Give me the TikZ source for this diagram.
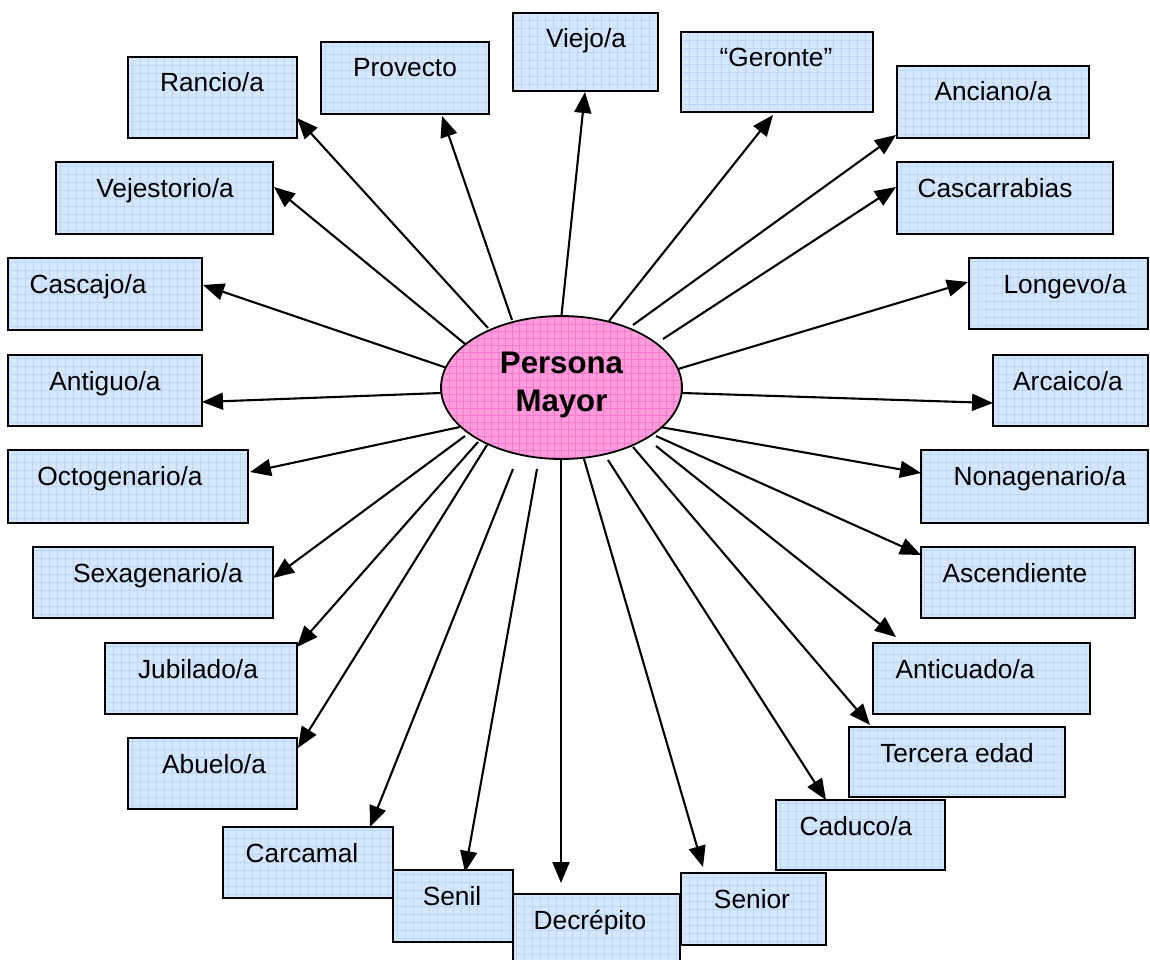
\documentclass[tikz,border=0pt]{standalone}
\usepackage{fontspec}
\setmainfont{Liberation Sans}
\usetikzlibrary{arrows.meta,shapes.geometric,backgrounds}

\definecolor{boxfill}{RGB}{212,231,252}
\definecolor{boxgrid}{RGB}{186,215,249}
\definecolor{ovalfill}{RGB}{255,156,220}
\definecolor{ovalgrid}{RGB}{248,120,205}

\tikzset{
  wbox/.style={draw=black, line width=2pt, fill=boxfill, inner sep=0pt, outer sep=0pt,
    path picture={\draw[boxgrid, line width=0.6pt]
      (path picture bounding box.south west) grid[step=8pt]
      (path picture bounding box.north east);}},
  wtext/.style={anchor=base, inner sep=0pt, font=\fontsize{26.3}{30}\selectfont},
  oval/.style={ellipse, draw=black, line width=1.8pt, fill=ovalfill, inner sep=0pt, outer sep=0pt,
    path picture={\draw[ovalgrid, line width=0.6pt]
      (path picture bounding box.south west) grid[step=7pt]
      (path picture bounding box.north east);}},
  otext/.style={anchor=base, inner sep=0pt, font=\fontsize{31.2}{38}\selectfont\bfseries},
  arr/.style={line width=2.1pt, -{Triangle[length=21pt 0 0,width=17pt 0]}},
}

% box: name, left, top, right, bottom, text x, label
\newcommand\wordbox[7]{%
  \node[wbox, minimum width={(#4-#2)*1pt}, minimum height={(#5-#3)*1pt}]
    (#1) at ({(#2+#4)/2},{(#3+#5)/2}) {};
  \node[wtext] (#1-t) at (#6,{#3+35}) {#7};
}

\begin{document}
\begin{tikzpicture}[x=1pt,y=-1pt]
\useasboundingbox (0,0) rectangle (1150,960);

% central ellipse
\node[oval, minimum width=241pt, minimum height=143pt] (pm) at (561.5,387.5) {};
\node[otext] (pm-t1) at (561.5,373) {Persona};
\node[otext] (pm-t2) at (561.5,411) {Mayor};

% word boxes
\wordbox{ran}{128}{57}{297}{138}{212}{Rancio/a}
\wordbox{prv}{321}{42}{489}{114}{405}{Provecto}
\wordbox{vie}{513}{13}{658}{91}{586}{Viejo/a}
\wordbox{ger}{681}{32}{873}{112}{776}{“Geronte”}
\wordbox{anc}{897}{66}{1089}{138}{993}{Anciano/a}
\wordbox{vej}{56}{162}{273}{234}{165}{Vejestorio/a}
\wordbox{crr}{897}{162}{1113}{234}{995}{Cascarrabias}
\wordbox{cjo}{8}{258}{202}{330}{88}{Cascajo/a}
\wordbox{lon}{969}{258}{1148}{329}{1065}{Longevo/a}
\wordbox{atg}{8}{355}{202}{426}{105}{Antiguo/a}
\wordbox{arc}{993}{355}{1148}{426}{1068}{Arcaico/a}
\wordbox{oct}{8}{450}{248}{523}{120}{Octogenario/a}
\wordbox{non}{921}{450}{1148}{523}{1040}{Nonagenario/a}
\wordbox{sex}{33}{547}{273}{618}{158}{Sexagenario/a}
\wordbox{asc}{921}{547}{1135}{618}{1015}{Ascendiente}
\wordbox{jub}{105}{643}{297}{714}{198}{Jubilado/a}
\wordbox{acu}{873}{643}{1090}{714}{965}{Anticuado/a}
\wordbox{abu}{128}{738}{297}{809}{214}{Abuelo/a}
\wordbox{ter}{849}{727}{1065}{797}{957}{Tercera edad}
\wordbox{car}{223}{827}{393}{898}{302}{Carcamal}
\wordbox{cad}{776}{800}{945}{870}{856}{Caduco/a}
\wordbox{sen}{393}{870}{513}{942}{452}{Senil}
\wordbox{dec}{513}{894}{680}{966}{590}{Decrépito}
\wordbox{snr}{681}{873}{826}{945}{752}{Senior}

% connectors, behind the ellipse and boxes
\begin{pgfonlayer}{background}
\draw[arr] ([shift={(-73.5,-59.5)}]pm.center) -- ([shift={(0,-20)}]ran.south east);
\draw[arr] ([shift={(-49.5,-67.5)}]pm.center) -- ([shift={(37,2)}]prv.south);
\draw[arr] ([shift={(-0.5,-67.5)}]pm.center) -- ([shift={(-0.5,1)}]vie.south);
\draw[arr] ([shift={(47.5,-66.5)}]pm.center) -- ([shift={(-4,3)}]ger.south);
\draw[arr] ([shift={(71.5,-62.5)}]pm.center) -- ([shift={(-1,-3)}]anc.south west);
\draw[arr] ([shift={(101.5,-48.5)}]pm.center) -- ([shift={(-1,-11)}]crr.west);
\draw[arr] ([shift={(-91.5,-39.5)}]pm.center) -- ([shift={(1,-11)}]vej.east);
\draw[arr] ([shift={(-111.5,-18.5)}]pm.center) -- ([shift={(1,-9)}]cjo.east);
\draw[arr] ([shift={(116.5,-18.5)}]pm.center) -- ([shift={(-1,-11.5)}]lon.west);
\draw[arr] ([shift={(-120.5,5.5)}]pm.center) -- ([shift={(0,11.5)}]atg.east);
\draw[arr] ([shift={(120.5,5.5)}]pm.center) -- ([shift={(0,12.5)}]arc.west);
\draw[arr] ([shift={(-101.5,39.5)}]pm.center) -- ([shift={(2,-14.5)}]oct.east);
\draw[arr] ([shift={(98.5,39.5)}]pm.center) -- ([shift={(0,-13.5)}]non.west);
\draw[arr] ([shift={(-96.5,48.5)}]pm.center) -- ([shift={(0,-4.5)}]sex.east);
\draw[arr] ([shift={(94.5,48.5)}]pm.center) -- ([shift={(0,8)}]asc.north west);
\draw[arr] ([shift={(-83.5,54.5)}]pm.center) -- ([shift={(0,4)}]jub.north east);
\draw[arr] ([shift={(94.5,58.5)}]pm.center) -- ([shift={(23,-6)}]acu.north west);
\draw[arr] ([shift={(-74.5,57.5)}]pm.center) -- ([shift={(1,10)}]abu.north east);
\draw[arr] ([shift={(71.5,59.5)}]pm.center) -- ([shift={(21,-2)}]ter.north west);
\draw[arr] ([shift={(-48.5,81.5)}]pm.center) -- ([shift={(-23,0)}]car.north east);
\draw[arr] ([shift={(-24.5,81.5)}]pm.center) -- ([shift={(12,2)}]sen.north);
\draw[arr] ([shift={(-0.5,72.5)}]pm.center) -- ([shift={(-35.5,-11)}]dec.north);
\draw[arr] ([shift={(22.5,71.5)}]pm.center) -- ([shift={(22,-6)}]snr.north west);
\draw[arr] ([shift={(46.5,72.5)}]pm.center) -- ([shift={(-34.5,0)}]cad.north);
\end{pgfonlayer}
\end{tikzpicture}
\end{document}
